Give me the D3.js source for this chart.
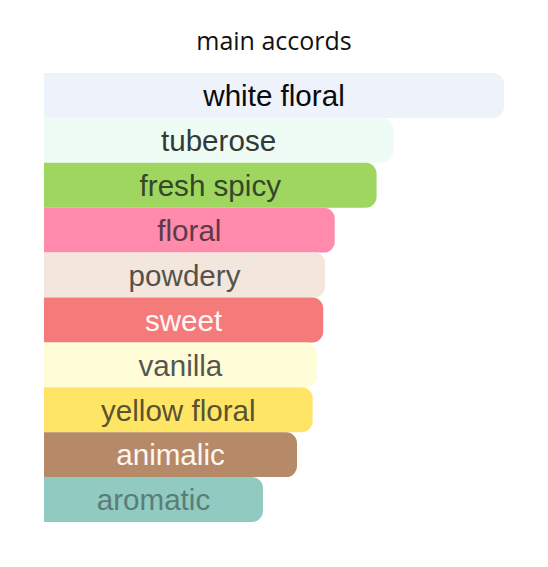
<!DOCTYPE html>
<html>
<head>
<meta charset="utf-8">
<script src="https://cdn.jsdelivr.net/npm/d3@7"></script>
<style>
  html, body { margin: 0; padding: 0; background: #fff; }
  svg { display: block; }
</style>
</head>
<body>
<svg id="chart" width="548" height="567"></svg>
<script>
const accords = ["white floral", "tuberose", "fresh spicy", "floral", "powdery", "sweet", "vanilla", "yellow floral", "animalic", "aromatic"];
const strengths = [100, 75.9, 72.3, 63.2, 61.1, 60.7, 59.3, 58.4, 55.0, 47.6];
const chartTitle = "main accords";

const barColors = ["#eef2fb", "#effcf5", "#9ed65f", "#ff8aab", "#f3e7dd", "#f57a7a", "#fffdd8", "#ffe566", "#b68a69", "#91cac0"];
const textColors = ["#0a0a0a", "#333a36", "#34472a", "#5b3b46", "#55524e", "#fff7f7", "#56564f", "#5a532f", "#fcf7f2", "#5b7d78"];

const svg = d3.select("#chart");
const W = 548, H = 567;

const x = d3.scaleLinear().domain([0, 100]).range([44, 504]);
const y = d3.scaleBand().domain(accords).range([73, 522]).padding(0);
const fill = d3.scaleOrdinal().domain(accords).range(barColors);
const ink = d3.scaleOrdinal().domain(accords).range(textColors);

svg.append("text")
  .attr("x", 274)
  .attr("y", 50)
  .attr("text-anchor", "middle")
  .attr("font-family", "'Open Sans', 'Noto Sans', sans-serif")
  .attr("font-size", 25)
  .attr("fill", "#111")
  .text(chartTitle);

const data = accords.map((a, i) => ({ name: a, value: strengths[i] }));

function barPath(x0, y0, w, h, r) {
  r = Math.min(r, w / 2, h / 2);
  return `M${x0},${y0}H${x0 + w - r}A${r},${r} 0 0 1 ${x0 + w},${y0 + r}` +
         `V${y0 + h - r}A${r},${r} 0 0 1 ${x0 + w - r},${y0 + h}H${x0}Z`;
}

const g = svg.append("g");
const rows = g.selectAll("g.row").data(data).join("g").attr("class", "row");

rows.append("path")
  .attr("d", d => barPath(x(0), y(d.name), x(d.value) - x(0), y.bandwidth(), 11))
  .attr("fill", d => fill(d.name));

rows.append("text")
  .attr("x", d => (x(0) + x(d.value)) / 2)
  .attr("y", d => y(d.name) + y.bandwidth() / 2 + 10.8)
  .attr("text-anchor", "middle")
  .attr("font-family", "'Liberation Sans', Arial, sans-serif")
  .attr("font-size", 29.6)
  .attr("fill", d => ink(d.name))
  .text(d => d.name);
</script>
</body>
</html>
